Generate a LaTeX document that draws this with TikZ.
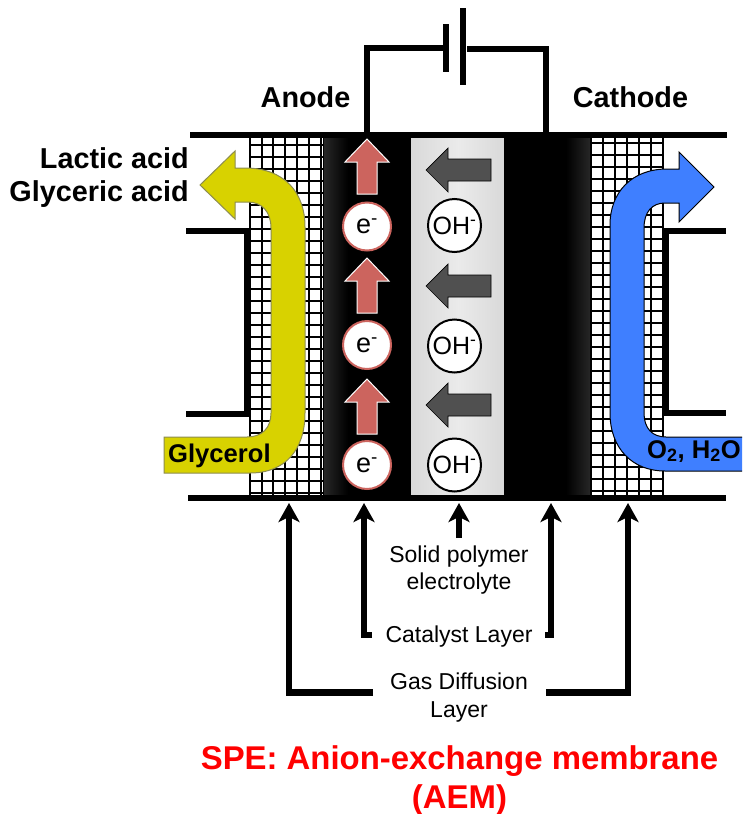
\documentclass[tikz,border=0pt]{standalone}
\usepackage{fontspec}
\setmainfont{Liberation Sans}
\usetikzlibrary{arrows.meta}
\definecolor{redarrow}{HTML}{CC645E}
\definecolor{grayarrow}{HTML}{505050}
\definecolor{glyc}{HTML}{D8D200}
\definecolor{glycedge}{HTML}{8C8C50}
\definecolor{oxy}{HTML}{3F7FFF}
\tikzset{
  wire/.style={line width=6.4pt,black,line join=miter},
  ptr/.style={line width=6.4pt,black,line join=miter,-{Stealth[length=19pt,width=21pt,inset=5pt]}},
  mesh/.style={line width=1.15pt,black},
  eup/.style={fill=redarrow,draw=white,line width=1pt},
  ionleft/.style={fill=grayarrow,draw=black,line width=.7pt},
  ecirc/.style={circle,fill=white,draw=redarrow,line width=2pt,minimum size=48pt,inner sep=0pt,font=\fontsize{27}{27}\selectfont},
  ohcirc/.style={circle,fill=white,draw=black,line width=2pt,minimum size=53pt,inner sep=0pt,font=\fontsize{25}{25}\selectfont},
  small/.style={font=\fontsize{23}{27}\selectfont,align=center,inner sep=0pt},
  bold/.style={font=\fontsize{28.8}{33.5}\selectfont\bfseries,inner sep=0pt},
  flow/.style={font=\fontsize{25.6}{27}\selectfont\bfseries,inner sep=0pt},
  headline/.style={text=red,font=\fontsize{32.9}{36}\selectfont\bfseries,inner sep=0pt},
}
\newcommand{\upArrowAt}[2]{\path[eup] (#1,#2) -- ++(22,23) -- ++(-12,0) -- ++(0,32) -- ++(-20,0) -- ++(0,-32) -- ++(-12,0) -- cycle;}
\newcommand{\leftArrowAt}[1]{\path[ionleft] (426,#1) -- (448,#1-22) -- (448,#1-11) -- (491,#1-11) -- (491,#1+11) -- (448,#1+11) -- (448,#1+22) -- cycle;}
\begin{document}
\begin{tikzpicture}[x=1pt,y=-1pt]
\useasboundingbox (0,0) rectangle (742,814);
\fill[white] (0,0) rectangle (742,814);
% layers
\fill[black] (345,138) rectangle (411,495);
\shade[left color=black!85,right color=black] (324,138) rectangle (348,495);
\shade[left color=black!15,right color=black!8] (411,138) rectangle (458,495);
\shade[left color=black!8,right color=black!15] (458,138) rectangle (504,495);
\fill[black] (504,138) rectangle (568,495);
\shade[left color=black,right color=black!85] (566,138) rectangle (590,495);
% gas diffusion meshes
\foreach \x in {250,262,273,285,297,309,321,323.5}{\draw[mesh] (\x,136) -- (\x,496);}
\foreach \x in {591,603,615,627,639,651,663}{\draw[mesh] (\x,136) -- (\x,496);}
\foreach \k in {0,...,29}{
  \draw[mesh] (250,145+12*\k) -- (323,145+12*\k);
  \draw[mesh] (590,143+12*\k) -- (663,143+12*\k);
}
% plates
\draw[wire] (190,135) -- (727,135);
\draw[wire] (188,498) -- (726,498);
\draw[wire] (186,231) -- (247,231) -- (247,414) -- (186,414);
\draw[wire] (726,231) -- (665.5,231) -- (665.5,413) -- (726,413);
% battery
\coordinate (platetopL) at (367,135);
\coordinate (platetopR) at (546,135);
\coordinate (batL) at (446,48);
\coordinate (batR) at (467,49);
\draw[wire] (platetopL) -- (367,48) -- (batL);
\draw[wire] (platetopR) -- (546,49) -- (batR);
\draw[wire] (446,24) -- (446,72);
\draw[wire] (463,8) -- (463,85);
% glycerol arrow
\path[fill=glyc,draw=glycedge,line width=1pt]
  (164,437) -- (247,437) .. controls (262,437) and (271,428) .. (271,413)
  -- (271,228) .. controls (271,212) and (262,202) .. (248,202)
  -- (235,202) -- (235,219) -- (200,185) -- (235,151) -- (235,168) -- (245,168)
  .. controls (284,168) and (305,192) .. (305,227)
  -- (305,413) .. controls (305,450) and (285,473) .. (250,473)
  -- (164,473) -- cycle;
% oxygen arrow
\path[fill=oxy,draw=black,line width=1pt]
  (742,437) -- (666,437) .. controls (652,437) and (644,428) .. (644,413)
  -- (644,228) .. controls (644,212) and (652,203) .. (665,203)
  -- (679,203) -- (679,222) -- (714,187) -- (679,152) -- (679,169) -- (667,169)
  .. controls (632,169) and (610,192) .. (610,225)
  -- (610,413) .. controls (610,448) and (632,471) .. (665,471)
  -- (742,471);
% electrons
\upArrowAt{367}{139}
\upArrowAt{367}{258}
\upArrowAt{367}{379}
\node[ecirc] (e1) at (367,226.5) {e\textsuperscript{-}};
\node[ecirc] (e2) at (367,345) {e\textsuperscript{-}};
\node[ecirc] (e3) at (367,465) {e\textsuperscript{-}};
% hydroxide
\leftArrowAt{170}
\leftArrowAt{286}
\leftArrowAt{405}
\node[ohcirc] (oh1) at (454.5,225.5) {OH\textsuperscript{-}};
\node[ohcirc] (oh2) at (454.5,346) {OH\textsuperscript{-}};
\node[ohcirc] (oh3) at (454.5,465) {OH\textsuperscript{-}};
% big labels
\node[bold,anchor=base] (anode) at (305.5,107) {Anode};
\node[bold,anchor=base] (cathode) at (630.5,107) {Cathode};
\node[bold,anchor=base east] (lactic) at (189,168) {Lactic acid};
\node[bold,anchor=base east] (glyceric) at (189,201.5) {Glyceric acid};
\node[flow,anchor=base west] (glycerol) at (168,462) {Glycerol};
\node[flow,anchor=base west] (o2) at (647,458) {O\textsubscript{2}, H\textsubscript{2}O};
% small labels
\node[small,anchor=base] (spe1) at (459,562) {Solid polymer};
\node[small,anchor=base] (spe2) at (459,589) {electrolyte};
\node[small,anchor=base] (cat) at (459,642) {Catalyst Layer};
\node[small,anchor=base] (gas1) at (459,689) {Gas Diffusion};
\node[small,anchor=base] (gas2) at (459,717) {Layer};
\node[headline,anchor=base] (title1) at (459.5,769) {SPE: Anion-exchange membrane};
\node[headline,anchor=base] (title2) at (459.5,808) {(AEM)};
% pointers
\coordinate (tipGasL) at (289,503);
\coordinate (tipCatL) at (364,503);
\coordinate (tipSpe) at (459,503);
\coordinate (tipCatR) at (551,503);
\coordinate (tipGasR) at (628,503);
\coordinate (gasEndL) at (373,692.5);
\coordinate (gasEndR) at (546,692.5);
\coordinate (catEndL) at (372,635);
\coordinate (catEndR) at (545,635);
\coordinate (speEnd) at (459,538);
\draw[ptr] (gasEndL) -| (tipGasL);
\draw[ptr] (gasEndR) -| (tipGasR);
\draw[ptr] (catEndL) -| (tipCatL);
\draw[ptr] (catEndR) -| (tipCatR);
\draw[ptr] (speEnd) -- (tipSpe);
\end{tikzpicture}
\end{document}
